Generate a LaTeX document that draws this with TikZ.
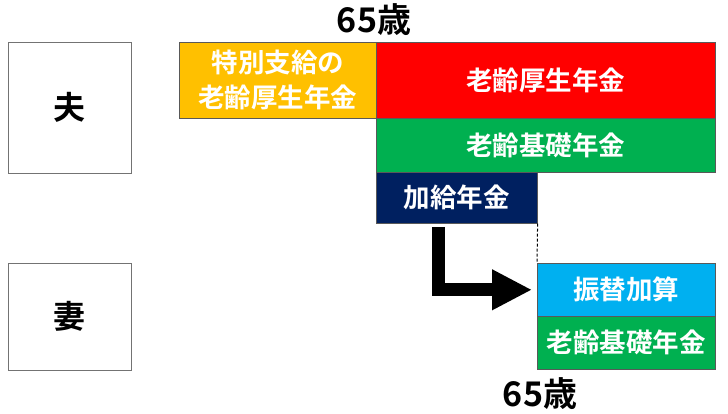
\documentclass[tikz,border=0pt]{standalone}
\usepackage{fontspec}
\setmainfont{Noto Sans CJK JP}[BoldFont={Noto Sans CJK JP Bold}]
\usetikzlibrary{arrows.meta}
\definecolor{cOrange}{HTML}{FFC000}
\definecolor{cRed}{HTML}{FF0000}
\definecolor{cGreen}{HTML}{00B050}
\definecolor{cNavy}{HTML}{002060}
\definecolor{cBlue}{HTML}{00B0F0}
\begin{document}
\begin{tikzpicture}[x=1pt,y=-1pt,
  box/.style={draw=black!65, line width=0.6pt, anchor=north west, inner sep=0pt,
    align=center, text=white, font=\fontsize{26.5}{35}\selectfont\bfseries},
  person/.style={draw=black!55, line width=0.6pt, anchor=north west, inner sep=0pt,
    fill=white, font=\fontsize{32}{36}\selectfont\bfseries},
  agelabel/.style={font=\fontsize{34}{38}\selectfont\bfseries, inner sep=0pt},
  bigarrow/.style={line width=13pt, line join=miter, -{Triangle[length=40pt,width=38pt]}}
]
\useasboundingbox (0,0) rectangle (728,414);
\fill[white] (0,0) rectangle (728,414);

\node[person, minimum width=123pt, minimum height=131pt] (husband) at (8,42) {夫};
\node[person, minimum width=123pt, minimum height=107pt] (wife) at (8,263) {妻};

\node[box, fill=cOrange, minimum width=197pt, minimum height=76pt] (special) at (179,42) {特別支給の\\老齢厚生年金};
\node[box, fill=cRed, minimum width=339pt, minimum height=76pt] (kosei) at (376,42) {老齢厚生年金};
\node[box, fill=cGreen, minimum width=339pt, minimum height=54pt] (kiso1) at (376,118) {老齢基礎年金};
\node[box, fill=cNavy, minimum width=161pt, minimum height=51pt] (kakyu) at (376,172) {加給年金};
\node[box, fill=cBlue, minimum width=178pt, minimum height=53pt] (furikae) at (537,263) {振替加算};
\node[box, fill=cGreen, minimum width=178pt, minimum height=53pt] (kiso2) at (537,316) {老齢基礎年金};

\node[agelabel] (age1) at (374,20) {65歳};
\node[agelabel] (age2) at (540,394) {65歳};

\draw[dashed, dash pattern=on 3pt off 2pt, line width=1pt, black] (kakyu.south east) -- (furikae.north west);

\coordinate (astart) at (438.5,227);
\draw[bigarrow, shorten >=5pt] (astart) |- (furikae.west);
\end{tikzpicture}
\end{document}
